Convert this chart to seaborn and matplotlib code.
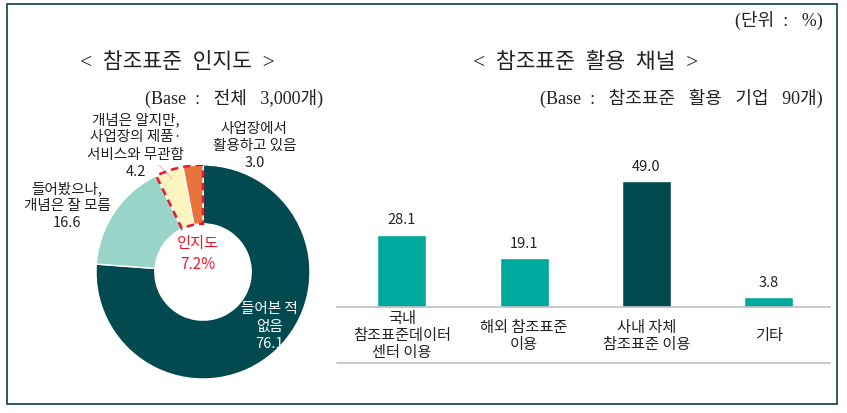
import matplotlib
matplotlib.use("Agg")
import matplotlib.pyplot as plt
import matplotlib.patches as mpatches
from matplotlib.lines import Line2D
import seaborn as sns
import pandas as pd

# donut data: awareness of reference standards (clockwise from top)
aware_labels = ["들어본 적\n없음", "들어봤으나,\n개념은 잘 모름",
                "개념은 알지만,\n사업장의 제품·\n서비스와 무관함", "사업장에서\n활용하고 있음"]
aware_values = [76.1, 16.6, 4.2, 3.0]
aware_colors = ["#034a50", "#98d4c8", "#fdf4c0", "#e8743b"]
aware_total = 7.2

# bar data: usage channel
channel_labels = ["국내\n참조표준데이터\n센터 이용", "해외 참조표준\n이용", "사내 자체\n참조표준 이용", "기타"]
channel_values = [28.1, 19.1, 49.0, 3.8]
channel_colors = ["#00a99d", "#00a99d", "#034a50", "#00a99d"]

sns.set_theme(style="white")
plt.rcParams['font.family'] = ['Noto Sans CJK KR', 'DejaVu Sans']
serif = ['Liberation Serif', 'Noto Sans CJK KR']

W, H = 847, 414
fig = plt.figure(figsize=(W / 100, H / 100), dpi=100)

# outer frame
fig.add_artist(mpatches.Rectangle((7 / W, 9 / H), 830 / W, 400 / H, transform=fig.transFigure,
                                  fill=False, edgecolor="#1f4e56", linewidth=1.3))

# ---------------- donut ----------------
cx, cy, r = 203, 273, 107
ax1 = fig.add_axes([(cx - r) / W, (H - cy - r) / H, 2 * r / W, 2 * r / H])
ax1.pie(aware_values, colors=aware_colors, startangle=90, counterclock=False, radius=1,
        wedgeprops=dict(width=0.55, edgecolor="white", linewidth=1))
ax1.set_xlim(-1, 1)
ax1.set_ylim(-1, 1)
ax1.set_aspect("equal")
ax1.axis("off")

# red dashed outline around the "aware" part
theta2 = 90 + (aware_values[2] + aware_values[3]) / 100 * 360
ax1.add_patch(mpatches.Wedge((0, 0), 1.0, 90, theta2, width=0.55, fill=False,
                             edgecolor="#e8192c", linestyle=(0, (3, 2)), linewidth=1.8, zorder=5))

fs = 10.5
ls = 1.28
ax1.text(0.62, -0.5, f"{aware_labels[0]}\n{aware_values[0]}", color="white", ha="center", va="center",
         fontsize=fs, linespacing=ls)
ax1.text(-1.27, 0.63, f"{aware_labels[1]}\n{aware_values[1]}", color="#222222", ha="center", va="center",
         fontsize=fs, linespacing=ls)
ax1.text(-0.63, 1.19, f"{aware_labels[2]}\n{aware_values[2]}", color="#222222", ha="center", va="center",
         fontsize=fs, linespacing=ls)
ax1.text(0.48, 1.19, f"{aware_labels[3]}\n{aware_values[3]:.1f}", color="#222222", ha="center", va="center",
         fontsize=fs, linespacing=ls)
ax1.text(-0.05, 0.18, f"인지도\n{aware_total}%", color="#e8192c", ha="center", va="center",
         fontsize=11, linespacing=1.3)
# leader lines
ax1.plot([-0.42, -0.29], [1.01, 0.87], color="#f2b8c6", linewidth=0.8)
ax1.plot([0.02, 0.19], [0.99, 1.07], color="#999999", linewidth=0.8)

fig.text(177 / W, 1 - 63 / H, "<  참조표준  인지도  >", ha="center", va="center", fontsize=15.5,
         family=serif, color="#222222")
fig.text(323 / W, 1 - 98 / H, "(Base  :   전체   3,000개)", ha="right", va="center", fontsize=13,
         family=serif, color="#222222")

# ---------------- bars ----------------
df = pd.DataFrame({"channel": channel_labels, "value": channel_values})
ax2 = fig.add_axes([337 / W, (H - 308) / H, 493 / W, 178 / H])
sns.barplot(data=df, x="channel", y="value", hue="channel", palette=channel_colors,
            width=0.4, legend=False, ax=ax2, saturation=1)
for cont in ax2.containers:
    ax2.bar_label(cont, fmt="%.1f", padding=6, fontsize=10.5, color="#222222")
ax2.set_xlim(-0.53, 3.5)
ax2.set_ylim(0, 69.3)
ax2.set_xlabel("")
ax2.set_ylabel("")
ax2.set_yticks([])
for s in ["top", "left", "right"]:
    ax2.spines[s].set_visible(False)
ax2.spines["bottom"].set_color("#bfbfbf")
ax2.spines["bottom"].set_linewidth(1.2)
ax2.tick_params(axis="x", length=0, pad=20)
ax2.set_xticks(range(len(channel_labels)))
ax2.set_xticklabels(channel_labels, fontsize=11, color="#222222", va="center", linespacing=1.0)

fig.add_artist(Line2D([337 / W, 830 / W], [1 - 364 / H, 1 - 364 / H], transform=fig.transFigure,
                      color="#bfbfbf", linewidth=1.2))

fig.text(586 / W, 1 - 63 / H, "<  참조표준  활용  채널  >", ha="center", va="center", fontsize=15.5,
         family=serif, color="#222222")
fig.text(823 / W, 1 - 98 / H, "(Base  :   참조표준   활용   기업   90개)", ha="right", va="center", fontsize=13,
         family=serif, color="#222222")
fig.text(823 / W, 1 - 20 / H, "(단위  :   %)", ha="right", va="center", fontsize=13,
         family=serif, color="#222222")

fig.savefig("out.png", dpi=100)
